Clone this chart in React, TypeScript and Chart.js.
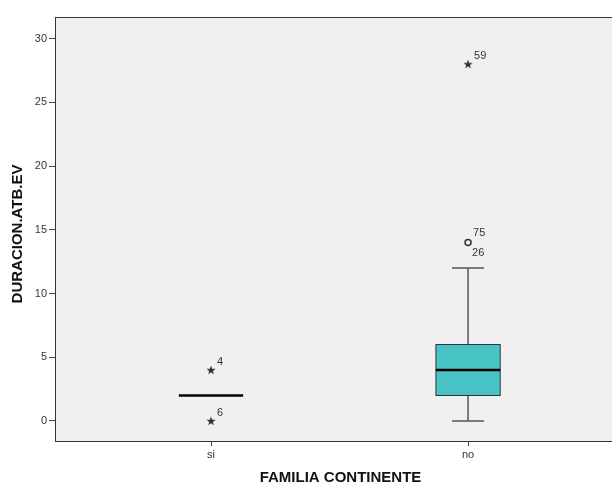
import React, { useEffect, useRef } from "react";
import { Chart, registerables } from "chart.js";

Chart.register(...registerables);

const categories = ["si", "no"];
// box stats per category: [min whisker, q1, median, q3, max whisker]
const whiskerLow = [2, 0];
const q1 = [2, 2];
const median = [2, 4];
const q3 = [2, 6];
const whiskerHigh = [2, 12];
// extreme outliers (stars)
const starCat = [0, 0, 1];
const starVal = [4, 0, 28];
const starLabel = ["4", "6", "59"];
// outliers (circles)
const circleCat = [1];
const circleVal = [14];
const circleLabel = [["75", "26"]];
const yTicks = [0, 5, 10, 15, 20, 25, 30];
const xTitle = "FAMILIA CONTINENTE";
const yTitle = "DURACION.ATB.EV";

const FONT = "'Liberation Sans', Arial, sans-serif";

function makeStar(): HTMLCanvasElement {
  const c = document.createElement("canvas");
  c.width = 10;
  c.height = 10;
  const g = c.getContext("2d")!;
  g.fillStyle = "#333";
  g.beginPath();
  const cx = 5, cy = 5.3, R = 4.8, r = 2.0;
  for (let i = 0; i < 10; i++) {
    const a = -Math.PI / 2 + (i * Math.PI) / 5;
    const rad = i % 2 === 0 ? R : r;
    const px = cx + rad * Math.cos(a), py = cy + rad * Math.sin(a);
    if (i === 0) g.moveTo(px, py); else g.lineTo(px, py);
  }
  g.closePath();
  g.fill();
  return c;
}

export default function App() {
  const ref = useRef<HTMLCanvasElement>(null);
  useEffect(() => {
    const star = makeStar();
    const boxPlugin = {
      id: "boxPlugin",
      beforeDraw(chart: any) {
        const { ctx, chartArea: a } = chart;
        ctx.save();
        ctx.fillStyle = "#f0f0f0";
        ctx.fillRect(a.left, a.top, a.right - a.left, a.bottom - a.top);
        ctx.strokeStyle = "#333";
        ctx.lineWidth = 1;
        ctx.beginPath();
        ctx.moveTo(a.left, a.top + 0.5);
        ctx.lineTo(a.right, a.top + 0.5);
        ctx.stroke();
        ctx.restore();
      },
      beforeDatasetsDraw(chart: any) {
        const { ctx, scales } = chart;
        const x = scales.x, y = scales.y;
        ctx.save();
        const boxW = 0.25, capW = 0.125;
        categories.forEach((_, i) => {
          const xc = x.getPixelForValue(i);
          const bw = x.getPixelForValue(i + boxW / 2) - xc;
          const cw = x.getPixelForValue(i + capW / 2) - xc;
          if (q3[i] > q1[i]) {
            ctx.strokeStyle = "#555";
            ctx.lineWidth = 1.5;
            ctx.beginPath();
            ctx.moveTo(xc, y.getPixelForValue(q3[i]));
            ctx.lineTo(xc, y.getPixelForValue(whiskerHigh[i]));
            ctx.moveTo(xc - cw, y.getPixelForValue(whiskerHigh[i]));
            ctx.lineTo(xc + cw, y.getPixelForValue(whiskerHigh[i]));
            ctx.moveTo(xc, y.getPixelForValue(q1[i]));
            ctx.lineTo(xc, y.getPixelForValue(whiskerLow[i]));
            ctx.moveTo(xc - cw, y.getPixelForValue(whiskerLow[i]));
            ctx.lineTo(xc + cw, y.getPixelForValue(whiskerLow[i]));
            ctx.stroke();
            const top = y.getPixelForValue(q3[i]);
            const bot = y.getPixelForValue(q1[i]);
            ctx.fillStyle = "#48c3c6";
            ctx.fillRect(xc - bw, top, 2 * bw, bot - top);
            ctx.strokeStyle = "#333";
            ctx.lineWidth = 1;
            ctx.strokeRect(xc - bw, top, 2 * bw, bot - top);
          }
          ctx.strokeStyle = "#000";
          ctx.lineWidth = 2.5;
          ctx.beginPath();
          const my = y.getPixelForValue(median[i]);
          ctx.moveTo(xc - bw, my);
          ctx.lineTo(xc + bw, my);
          ctx.stroke();
        });
        ctx.restore();
      },
      afterDatasetsDraw(chart: any) {
        const { ctx, scales } = chart;
        const x = scales.x, y = scales.y;
        ctx.save();
        ctx.fillStyle = "#333";
        ctx.font = `11px ${FONT}`;
        ctx.textBaseline = "middle";
        ctx.textAlign = "left";
        starCat.forEach((c, i) => {
          const px = x.getPixelForValue(c), py = y.getPixelForValue(starVal[i]);
          ctx.fillText(starLabel[i], px + 6, py - 8);
        });
        circleCat.forEach((c, i) => {
          const px = x.getPixelForValue(c), py = y.getPixelForValue(circleVal[i]);
          ctx.fillText(circleLabel[i][0], px + 5, py - 10);
          ctx.fillText(circleLabel[i][1], px + 4, py + 10);
        });
        ctx.restore();
      },
      afterDraw(chart: any) {
        const { ctx, chartArea: a } = chart;
        ctx.save();
        ctx.fillStyle = "#111";
        ctx.font = `bold 15px ${FONT}`;
        ctx.textAlign = "center";
        ctx.textBaseline = "middle";
        ctx.fillText(xTitle, (a.left + a.right) / 2 + 7, 478);
        ctx.translate(18, (a.top + a.bottom) / 2 + 5);
        ctx.rotate(-Math.PI / 2);
        ctx.fillText(yTitle, 0, 0);
        ctx.restore();
      },
    };

    const chart = new Chart(ref.current!, {
      type: "scatter",
      data: {
        datasets: [
          {
            data: starCat.map((c, i) => ({ x: c, y: starVal[i] })),
            pointStyle: star as any,
            pointRadius: 5,
          },
          {
            data: circleCat.map((c, i) => ({ x: c, y: circleVal[i] })),
            pointStyle: "circle",
            pointRadius: 3,
            borderColor: "#333",
            borderWidth: 1.5,
            backgroundColor: "rgba(0,0,0,0)",
          },
        ],
      },
      options: {
        animation: false,
        responsive: false,
        layout: { autoPadding: false, padding: { top: 17, right: 0, left: 0, bottom: 0 } },
        plugins: { legend: { display: false }, tooltip: { enabled: false } },
        scales: {
          x: {
            type: "linear",
            min: -0.607,
            max: 1.56,
            afterBuildTicks: (s: any) => {
              s.ticks = categories.map((_, i) => ({ value: i }));
            },
            afterFit: (s: any) => {
              s.height = 44;
              s.paddingLeft = 0;
              s.paddingRight = 0;
            },
            ticks: {
              callback: (v: any) => categories[v] ?? "",
              color: "#333",
              font: { family: FONT, size: 11 },
              padding: 2,
              maxRotation: 0,
            },
            grid: { drawOnChartArea: false, tickLength: 5, color: "#444", lineWidth: 1 },
            border: { color: "#333", width: 1 },
          },
          y: {
            type: "linear",
            min: -1.57,
            max: 31.7,
            afterBuildTicks: (s: any) => {
              s.ticks = yTicks.map((v) => ({ value: v }));
            },
            afterFit: (s: any) => {
              s.width = 55;
            },
            ticks: {
              color: "#333",
              font: { family: FONT, size: 11 },
              padding: 2,
            },
            grid: { drawOnChartArea: false, tickLength: 6, color: "#444", lineWidth: 1 },
            border: { color: "#333", width: 1 },
          },
        },
      },
      plugins: [boxPlugin],
    } as any);
    return () => chart.destroy();
  }, []);
  return (
    <div style={{ position: "absolute", left: 0, top: 0, width: 612, height: 485, background: "#fff" }}>
      <canvas ref={ref} width={612} height={485} style={{ display: "block" }} />
    </div>
  );
}
